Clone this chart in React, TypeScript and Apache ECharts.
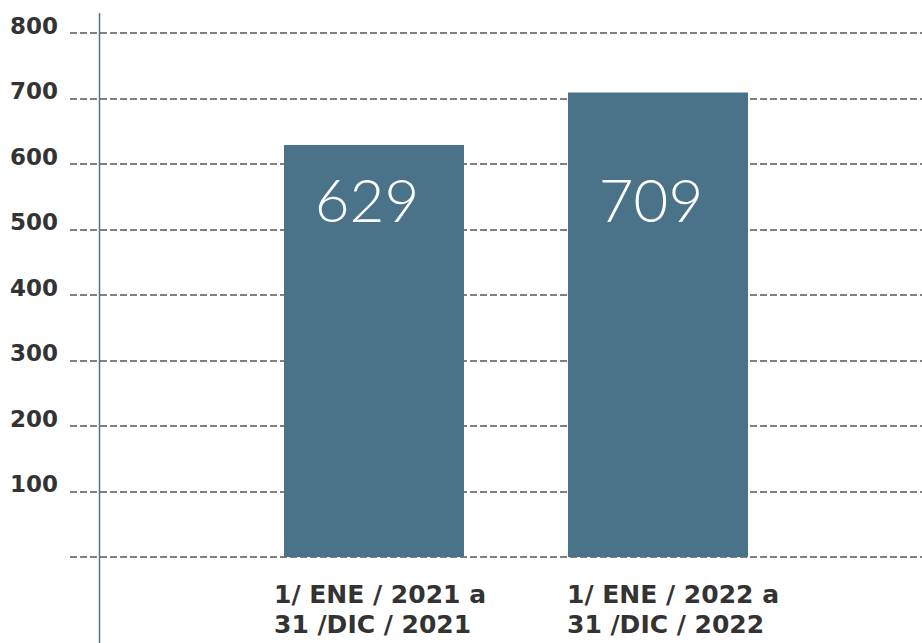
import React, { useEffect, useRef } from "react";
import * as echarts from "echarts";

const categories = ["1/ ENE / 2021 a\n31 /DIC / 2021", "1/ ENE / 2022 a\n31 /DIC / 2022"];
const values = [629, 709];
const yMin = 0;
const yMax = 800;
const yInterval = 100;

const W = 922;
const H = 643;
const GRID_TOP = 33;
const GRID_BOTTOM = 86;
const LABEL_CENTER_Y = 199;

export default function App() {
  const ref = useRef<HTMLDivElement>(null);
  useEffect(() => {
    if (!ref.current) return;
    const chart = echarts.init(ref.current, null, { renderer: "svg", width: W, height: H });
    const plotH = H - GRID_TOP - GRID_BOTTOM;
    const barTop = (v: number) => GRID_TOP + ((yMax - v) / (yMax - yMin)) * plotH;
    const barData = values.map((v) => ({
      value: v,
      label: { position: ["50%", LABEL_CENTER_Y - barTop(v)] as any },
    }));
    const catText = {
      width: 200,
      align: "left",
      fontFamily: "DejaVu Sans",
      fontWeight: "bold",
      fontSize: 25,
      lineHeight: 30,
      color: "#333333",
    };
    chart.setOption({
      animation: false,
      backgroundColor: "#ffffff",
      grid: [
        { left: 70, right: 0, top: GRID_TOP, bottom: GRID_BOTTOM, containLabel: false },
        { left: 232, right: 122, top: GRID_TOP, bottom: GRID_BOTTOM, containLabel: false },
      ],
      xAxis: [
        {
          gridIndex: 0,
          type: "value",
          show: false,
          min: 0,
          max: 1,
          splitLine: { show: false },
        },
        {
          gridIndex: 1,
          type: "category",
          data: categories,
          axisLine: { show: false },
          axisTick: { show: false },
          axisLabel: {
            margin: 22,
            interval: 0,
            formatter: (s: string, i: number) =>
              s
                .split("\n")
                .map((l) => "{" + (i === 0 ? "a" : "b") + "|" + l + "}")
                .join("\n"),
            rich: {
              a: catText,
              b: { ...catText, padding: [0, 0, 0, 18] },
            },
          },
        },
      ],
      yAxis: [
        {
          gridIndex: 0,
          type: "value",
          min: yMin,
          max: yMax,
          interval: yInterval,
          axisLine: { show: false },
          axisTick: { show: false },
          axisLabel: {
            align: "left",
            verticalAlign: "bottom",
            margin: 60,
            padding: [0, 0, -4, 0],
            fontFamily: "DejaVu Sans",
            fontWeight: "bold",
            fontSize: 23,
            color: "#333333",
            formatter: (v: number) => (v === 0 ? "" : String(v)),
          },
          splitLine: {
            show: true,
            lineStyle: { color: "#808080", width: 2, type: [7, 3] },
          },
        },
        {
          gridIndex: 1,
          type: "value",
          min: yMin,
          max: yMax,
          interval: yInterval,
          show: false,
          splitLine: { show: false },
        },
      ],
      graphic: [
        {
          type: "line",
          shape: { x1: 99.5, y1: 13, x2: 99.5, y2: H },
          style: { stroke: "#5f717c", lineWidth: 1.5 },
          z: 10,
        },
      ],
      series: [
        {
          type: "bar",
          xAxisIndex: 1,
          yAxisIndex: 1,
          data: barData,
          barWidth: 180,
          itemStyle: { color: "#4a7389" },
          label: {
            show: true,
            align: "center",
            verticalAlign: "middle",
            offset: [-7, 0],
            color: "#ffffff",
            fontFamily: "Lato",
            fontWeight: 300,
            fontSize: 60,
          },
        },
      ],
    });
    return () => chart.dispose();
  }, []);
  return (
    <div
      ref={ref}
      style={{ position: "fixed", left: 0, top: 0, width: W, height: H, background: "#fff" }}
    />
  );
}
